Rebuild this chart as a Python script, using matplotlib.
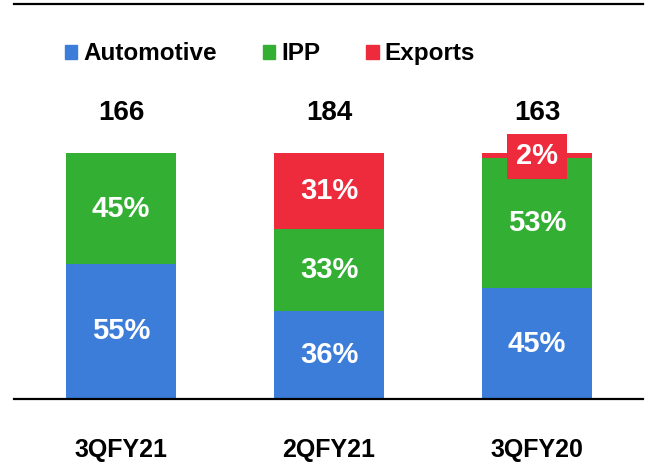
import matplotlib.pyplot as plt
import numpy as np
from matplotlib.patches import Patch

plt.rcParams['font.family'] = ['Liberation Sans', 'DejaVu Sans']
plt.rcParams['font.weight'] = 'bold'

# Data
quarters = ["3QFY21", "2QFY21", "3QFY20"]
automotive = [55, 36, 45]
ipp = [45, 33, 53]
exports = [0, 31, 2]
totals = [166, 184, 163]

BLUE = "#3C7DD9"
GREEN = "#33B034"
RED = "#EE2A3D"

fig = plt.figure(figsize=(6.46, 4.63), dpi=100)
ax = fig.add_axes([0.0217, 0.138, 0.9737, 0.853])

x = np.arange(len(quarters))
width = 0.53
auto = np.array(automotive)
ip = np.array(ipp)
ex = np.array(exports)

ax.bar(x, auto, width, color=BLUE)
ax.bar(x, ip, width, bottom=auto, color=GREEN)
ax.bar(x, ex, width, bottom=auto + ip, color=RED)

# segment labels
for i in range(len(x)):
    ax.text(x[i], auto[i] / 2, f"{auto[i]}%", ha="center", va="center",
            color="white", fontsize=21, fontweight="bold")
    ax.text(x[i], auto[i] + ip[i] / 2, f"{ip[i]}%", ha="center", va="center",
            color="white", fontsize=21, fontweight="bold")
    if ex[i] >= 10:
        ax.text(x[i], auto[i] + ip[i] + ex[i] / 2, f"{ex[i]}%", ha="center",
                va="center", color="white", fontsize=21, fontweight="bold")
    elif ex[i] > 0:
        # small slice: label sits in a red box at the bar top
        ax.text(x[i], auto[i] + ip[i] + ex[i] / 2 - 0.3, f"{ex[i]}%", ha="center",
                va="center", color="white", fontsize=21, fontweight="bold",
                bbox=dict(boxstyle="square,pad=0.3", facecolor=RED, edgecolor="none"))
    ax.text(x[i], 116.3, str(totals[i]), ha="center", va="center",
            color="black", fontsize=20, fontweight="bold")

ax.set_xlim(-0.515, 2.51)
ax.set_ylim(0, 160.6)
ax.set_yticks([])
ax.set_xticks(x)
ax.set_xticklabels(quarters, fontsize=18, fontweight="bold")
ax.tick_params(axis="x", length=0, pad=28)

for s in ["left", "right"]:
    ax.spines[s].set_visible(False)
for s in ["top", "bottom"]:
    ax.spines[s].set_linewidth(1.6)
    ax.spines[s].set_color("black")

handles = [Patch(color=BLUE, label="Automotive"),
           Patch(color=GREEN, label="IPP"),
           Patch(color=RED, label="Exports")]
leg = fig.legend(handles=handles, loc="center", bbox_to_anchor=(0.418, 0.884),
                 ncol=3, frameon=False, handlelength=0.5,
                 handleheight=0.5, handletextpad=0.25, columnspacing=1.9,
                 prop={"weight": "bold", "size": 17.5})

fig.savefig("out.png", dpi=100)
